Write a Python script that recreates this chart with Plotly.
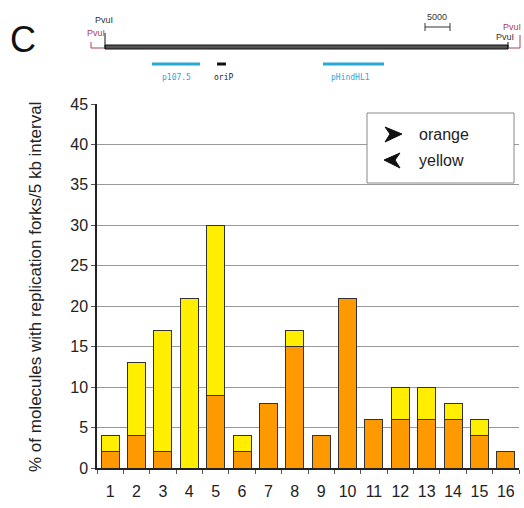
import plotly.graph_objects as go

categories = [str(i) for i in range(1, 17)]
orange = [2, 4, 2, 0, 9, 2, 8, 15, 4, 21, 6, 6, 6, 6, 4, 2]
yellow = [2, 9, 15, 21, 21, 2, 0, 2, 0, 0, 0, 4, 4, 2, 2, 0]
y_ticks = [0, 5, 10, 15, 20, 25, 30, 35, 40, 45]

W, H = 524, 508
L, R, T, B = 97, 5, 104, 40
PW, PH = W - L - R, H - T - B


def px(x):
    return (x - L) / PW


def py(y):
    return (H - B - y) / PH


FONT = "Liberation Sans, Arial, sans-serif"
ORANGE = "#FF9900"
YELLOW = "#FFEE00"

fig = go.Figure()
fig.add_trace(go.Bar(x=categories, y=orange, name="orange", marker=dict(color=ORANGE, line=dict(color="#333", width=1)), width=0.68))
fig.add_trace(go.Bar(x=categories, y=yellow, name="yellow", marker=dict(color=YELLOW, line=dict(color="#333", width=1)), width=0.68))

shapes = []
ann = []

# top map
shapes.append(dict(type="rect", xref="paper", yref="paper", x0=px(105), x1=px(508), y0=py(49), y1=py(45),
                   fillcolor="#555", line=dict(color="#111", width=1)))
shapes.append(dict(type="line", xref="paper", yref="paper", x0=px(105), x1=px(105), y0=py(49), y1=py(33), line=dict(color="#111", width=1)))
shapes.append(dict(type="line", xref="paper", yref="paper", x0=px(508), x1=px(508), y0=py(49), y1=py(42), line=dict(color="#111", width=1)))
# red brackets
shapes.append(dict(type="path", xref="paper", yref="paper",
                   path=f"M {px(91)},{py(42)} L {px(91)},{py(48)} L {px(104)},{py(48)}", line=dict(color="#b04050", width=1)))
shapes.append(dict(type="path", xref="paper", yref="paper",
                   path=f"M {px(509)},{py(48)} L {px(520)},{py(48)} L {px(520)},{py(35)}", line=dict(color="#b04050", width=1)))
# scale bar
shapes.append(dict(type="line", xref="paper", yref="paper", x0=px(425), x1=px(450), y0=py(27), y1=py(27), line=dict(color="#333", width=1)))
shapes.append(dict(type="line", xref="paper", yref="paper", x0=px(425), x1=px(425), y0=py(23), y1=py(31), line=dict(color="#333", width=1)))
shapes.append(dict(type="line", xref="paper", yref="paper", x0=px(450), x1=px(450), y0=py(23), y1=py(31), line=dict(color="#333", width=1)))
# probes
shapes.append(dict(type="line", xref="paper", yref="paper", x0=px(152), x1=px(200), y0=py(64), y1=py(64), line=dict(color="#29a9d6", width=3)))
shapes.append(dict(type="line", xref="paper", yref="paper", x0=px(217), x1=px(226), y0=py(64), y1=py(64), line=dict(color="#111", width=3)))
shapes.append(dict(type="line", xref="paper", yref="paper", x0=px(323), x1=px(384), y0=py(64), y1=py(64), line=dict(color="#29a9d6", width=3)))


def txt(x, y, s, size, color="#222", xa="center", family="DejaVu Sans Mono, monospace", angle=0):
    ann.append(dict(x=px(x), y=py(y), xref="paper", yref="paper", text=s, showarrow=False, textangle=angle,
                    font=dict(size=size, color=color, family=family), xanchor=xa, yanchor="middle"))


txt(23, 40, "C", 36, "#111", family=FONT)
txt(104, 20, "PvuI", 9, "#333", family=FONT)
txt(96, 33, "PvuI", 9, "#b04050", family=FONT)
txt(523, 27, "PvuI", 9, "#b04050", xa="right", family=FONT)
txt(505, 37, "PvuI", 9, "#333", family=FONT)
txt(437, 17, "5000", 9, "#333", family=FONT)
txt(176, 77, "p107.5", 8, "#29a9d6")
txt(223, 77, "oriP", 8, "#222")
txt(350, 77, "pHindHL1", 8, "#29a9d6")

# y axis title
txt(35, 287, "% of molecules with replication forks/5 kb interval", 17, "#222", family=FONT, angle=-90)

# legend box
shapes.append(dict(type="rect", xref="paper", yref="paper", x0=px(367), x1=px(514), y0=py(183), y1=py(113),
                   fillcolor="white", line=dict(color="#888", width=1)))
# arrowheads
shapes.append(dict(type="path", xref="paper", yref="paper",
                   path=f"M {px(385)},{py(127)} L {px(402)},{py(134)} L {px(385)},{py(142)} L {px(390)},{py(134)} Z",
                   fillcolor="#111", line=dict(color="#111", width=1)))
shapes.append(dict(type="path", xref="paper", yref="paper",
                   path=f"M {px(400)},{py(153)} L {px(384)},{py(160)} L {px(400)},{py(168)} L {px(395)},{py(160)} Z",
                   fillcolor="#111", line=dict(color="#111", width=1)))
txt(417, 134, "orange", 16, "#222", xa="left", family=FONT)
txt(417, 160, "yellow", 16, "#222", xa="left", family=FONT)

fig.update_layout(
    barmode="stack",
    width=W, height=H,
    margin=dict(l=L, r=R, t=T, b=B, autoexpand=False),
    paper_bgcolor="white", plot_bgcolor="white",
    showlegend=False,
    font=dict(family=FONT, color="#222"),
    shapes=shapes,
    annotations=ann,
    xaxis=dict(type="category", tickson="boundaries", ticks="outside", ticklen=4, tickcolor="#555",
               showline=True, linecolor="#222", linewidth=1.5, tickfont=dict(size=16), showgrid=False,
               tickangle=0, automargin=False, ticklabelstandoff=8),
    yaxis=dict(range=[0, 45], tickvals=y_ticks, ticks="outside", ticklen=4, tickcolor="#555",
               showline=True, linecolor="#222", linewidth=1.5, tickfont=dict(size=16),
               showgrid=True, gridcolor="#999", gridwidth=1, zeroline=False, automargin=False),
)

fig.write_html("out.html", config={"displayModeBar": False},
               post_script="document.body.style.margin='0';document.body.style.overflow='hidden';")
